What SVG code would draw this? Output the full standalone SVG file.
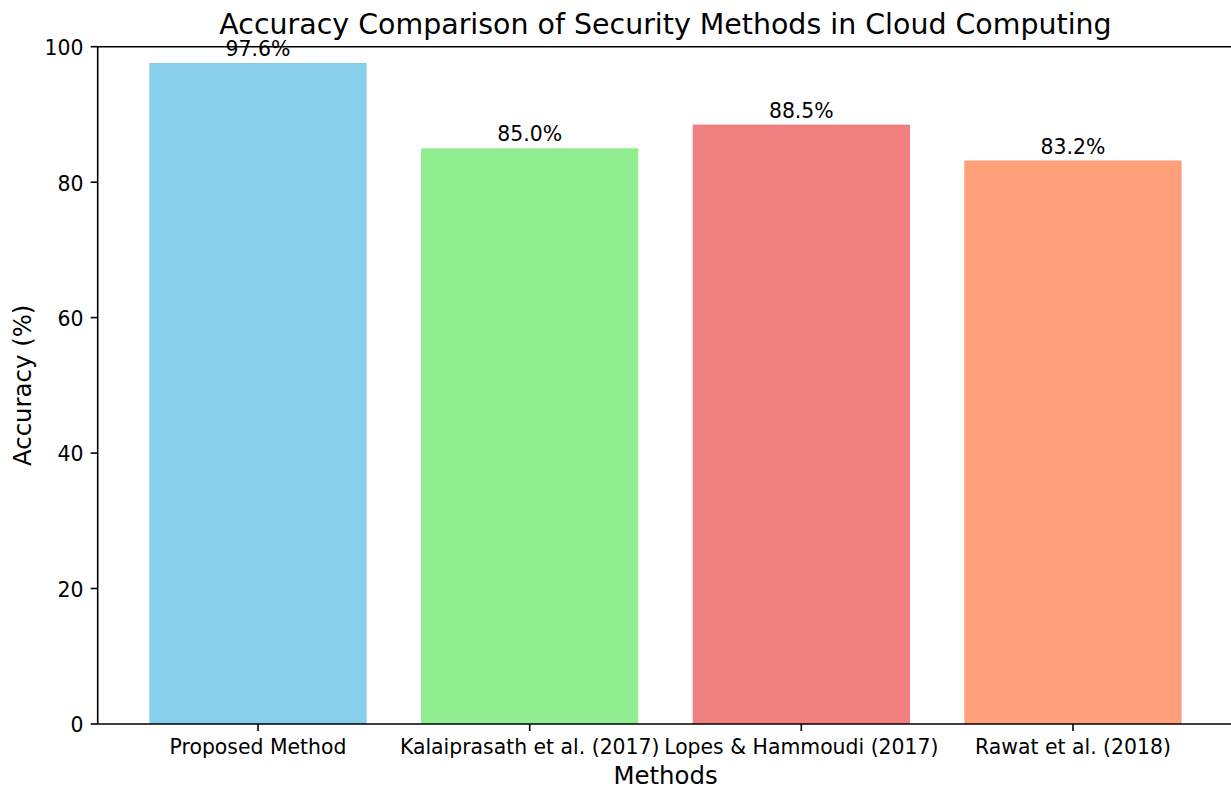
<svg xmlns="http://www.w3.org/2000/svg" width="1231" height="789" viewBox="0 0 1231 789">
  <style>
    text { font-family: "DejaVu Sans", "Liberation Sans", sans-serif; fill: #000; }
    .tick { font-size: 20.4px; }
    .ytick { text-anchor: end; }
    .xtick { text-anchor: middle; }
    .val { font-size: 20.4px; text-anchor: middle; }
    .axlabel { font-size: 24.4px; text-anchor: middle; }
    .title { font-size: 28.45px; text-anchor: middle; }
    .spine { stroke: #000; stroke-width: 1.6; fill: none; stroke-linecap: square; }
    .tickmark { stroke: #000; stroke-width: 1.6; }
  </style>
  <rect width="1231" height="789" fill="#fff"/>

  <!-- bars -->
  <g id="bar-proposed">
    <rect x="149.3" y="63.0" width="217.3" height="661.0" fill="#87CEEB"/>
    <text class="val" x="258" y="56">97.6%</text>
  </g>
  <g id="bar-kalaiprasath">
    <rect x="421.0" y="148.3" width="217.3" height="575.7" fill="#90EE90"/>
    <text class="val" x="529.7" y="141.3">85.0%</text>
  </g>
  <g id="bar-lopes">
    <rect x="692.7" y="124.6" width="217.3" height="599.4" fill="#F08080"/>
    <text class="val" x="801.3" y="117.6">88.5%</text>
  </g>
  <g id="bar-rawat">
    <rect x="964.3" y="160.5" width="217.3" height="563.5" fill="#FFA07A"/>
    <text class="val" x="1073" y="153.5">83.2%</text>
  </g>

  <!-- axes frame and ticks -->
  <g id="axes">
    <path class="spine" d="M97.7,46.7 V724 H1240 M97.7,46.7 H1240"/>
    <g class="tickmark">
      <line x1="90.7" y1="724" x2="97.7" y2="724"/>
      <line x1="90.7" y1="588.5" x2="97.7" y2="588.5"/>
      <line x1="90.7" y1="453.1" x2="97.7" y2="453.1"/>
      <line x1="90.7" y1="317.6" x2="97.7" y2="317.6"/>
      <line x1="90.7" y1="182.2" x2="97.7" y2="182.2"/>
      <line x1="90.7" y1="46.7" x2="97.7" y2="46.7"/>
      <line x1="258" y1="724" x2="258" y2="731"/>
      <line x1="529.7" y1="724" x2="529.7" y2="731"/>
      <line x1="801.3" y1="724" x2="801.3" y2="731"/>
      <line x1="1073" y1="724" x2="1073" y2="731"/>
    </g>
    <g class="tick ytick">
      <text x="83.5" y="732.3">0</text>
      <text x="83.5" y="596.8">20</text>
      <text x="83.5" y="461.4">40</text>
      <text x="83.5" y="325.9">60</text>
      <text x="83.5" y="190.5">80</text>
      <text x="83.5" y="55">100</text>
    </g>
    <g class="tick xtick">
      <text x="258" y="754.3">Proposed Method</text>
      <text x="529.7" y="754.3">Kalaiprasath et al. (2017)</text>
      <text x="801.3" y="754.3">Lopes &amp; Hammoudi (2017)</text>
      <text x="1073" y="754.3">Rawat et al. (2018)</text>
    </g>
    <text class="axlabel" x="665.5" y="784">Methods</text>
    <text class="axlabel" transform="translate(30.5,385.3) rotate(-90)">Accuracy (%)</text>
    <text class="title" x="665.5" y="34.3">Accuracy Comparison of Security Methods in Cloud Computing</text>
  </g>
</svg>
